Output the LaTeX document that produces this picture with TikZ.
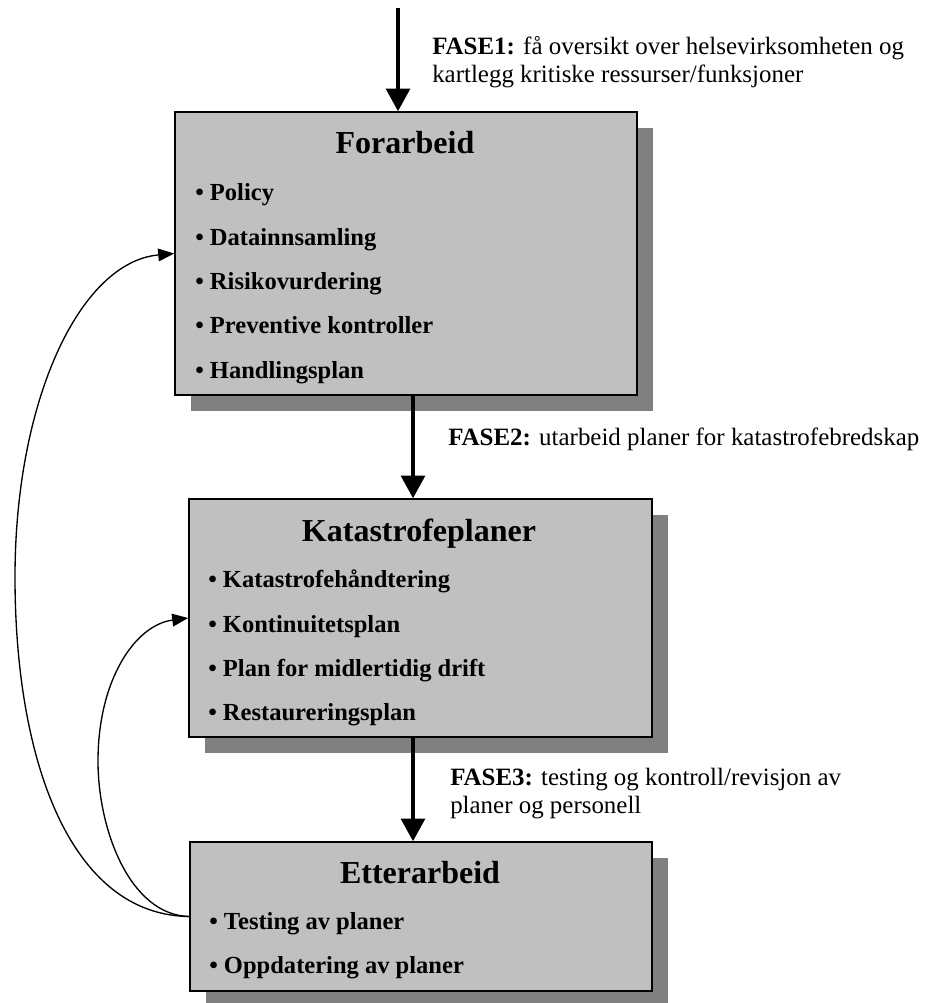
\documentclass[tikz,border=0pt]{standalone}
\usepackage{fontspec}
\setmainfont{Liberation Serif}
\usetikzlibrary{arrows.meta,shadows}

\definecolor{boxgray}{RGB}{192,192,192}
\definecolor{shadowgray}{RGB}{128,128,128}

\newcommand{\titlefont}{\fontsize{24}{28}\selectfont\bfseries}
\newcommand{\itemfont}{\fontsize{18.4}{22}\selectfont\bfseries}
\newcommand{\notefont}{\fontsize{18.7}{22}\selectfont}

\tikzset{
  phasebox/.style={draw=black, line width=1.2pt, fill=boxgray, inner sep=0pt,
    drop shadow={shadow xshift=12pt, shadow yshift=-12pt, fill=shadowgray, opacity=1}},
  boxtitle/.style={anchor=base, inner sep=0pt, font=\titlefont},
  boxitem/.style={anchor=base west, inner sep=0pt, font=\itemfont},
  phasenote/.style={anchor=base west, inner sep=0pt, font=\notefont},
  mainarrow/.style={line width=2.4pt, -{Triangle[length=17pt, width=18pt]}},
  backarrow/.style={line width=1pt, -{Triangle[length=12pt, width=9.5pt]}},
}

\begin{document}
\begin{tikzpicture}[x=0.75pt, y=-0.75pt]
  \clip (0,0) rectangle (929,1003);
  \useasboundingbox (0,0) rectangle (929,1003);

  % the three phase boxes
  \node[phasebox, minimum width=346.5pt, minimum height=212.25pt] (B1) at (406,253.5) {};
  \node[phasebox, minimum width=347.25pt, minimum height=178.5pt] (B2) at (420.5,618) {};
  \node[phasebox, minimum width=346.5pt, minimum height=111.75pt] (B3) at (421,916.5) {};

  % Forarbeid
  \node[boxtitle] (t1) at (405,153) {Forarbeid};
  \node[boxitem] (i11) at (195,200) {\textbullet\ Policy};
  \node[boxitem] (i12) at (195,245) {\textbullet\ Datainnsamling};
  \node[boxitem] (i13) at (195,289) {\textbullet\ Risikovurdering};
  \node[boxitem] (i14) at (195,333) {\textbullet\ Preventive kontroller};
  \node[boxitem] (i15) at (195,378) {\textbullet\ Handlingsplan};

  % Katastrofeplaner
  \node[boxtitle] (t2) at (419,541) {Katastrofeplaner};
  \node[boxitem] (i21) at (208,587) {\textbullet\ Katastrofehåndtering};
  \node[boxitem] (i22) at (208,632) {\textbullet\ Kontinuitetsplan};
  \node[boxitem] (i23) at (208,676) {\textbullet\ Plan for midlertidig drift};
  \node[boxitem] (i24) at (208,720) {\textbullet\ Restaureringsplan};

  % Etterarbeid
  \node[boxtitle] (t3) at (420,883) {Etterarbeid};
  \node[boxitem] (i31) at (209,929) {\textbullet\ Testing av planer};
  \node[boxitem] (i32) at (209,973) {\textbullet\ Oppdatering av planer};

  % phase notes beside the arrows
  \node[phasenote] (f1a) at (432,54) {\textbf{FASE1:} få oversikt over helsevirksomheten og};
  \node[phasenote] (f1b) at (432,82) {kartlegg kritiske ressurser/funksjoner};
  \node[phasenote] (f2) at (448,445) {\textbf{FASE2:} utarbeid planer for katastrofebredskap};
  \node[phasenote] (f3a) at (450,785) {\textbf{FASE3:} testing og kontroll/revisjon av};
  \node[phasenote] (f3b) at (450,813) {planer og personell};

  % main flow
  \coordinate (src) at (398,8);
  \coordinate (mid) at (413,0);
  \draw[mainarrow] (src) -- (src |- B1.north);
  \draw[mainarrow] (B1.south -| mid) -- (B2.north -| mid);
  \draw[mainarrow] (B2.south -| mid) -- (B3.north -| mid);

  % feedback loops
  \draw[backarrow] (B3.west) .. controls (70,915) and (15,760) .. (15,577)
                             .. controls (15,400) and (80,262) .. (B1.west);
  \draw[backarrow] (B3.west) .. controls (130,915) and (98,830) .. (98,761)
                             .. controls (98,680) and (135,625) .. (B2.west);
\end{tikzpicture}
\end{document}
